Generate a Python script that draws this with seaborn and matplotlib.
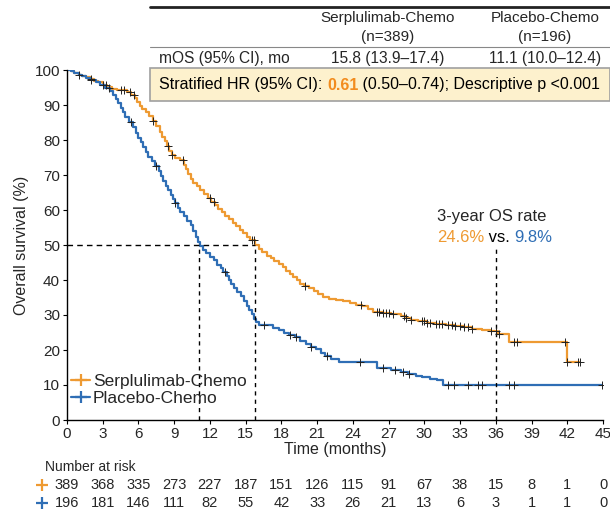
import matplotlib
matplotlib.use('Agg')
import matplotlib.pyplot as plt
import seaborn as sns
import pandas as pd
import numpy as np
from matplotlib.lines import Line2D
from matplotlib.patches import Rectangle

# KM curves (months, % surviving)
serp_t = [0, 0.3, 0.6, 1, 1.3, 1.6, 2, 2.3, 2.6, 3, 3.4, 3.8, 4.2, 5.0, 5.4, 5.7, 5.9, 6.1, 6.3,
          6.6, 6.9, 7.2, 7.5, 7.8, 8.0, 8.2, 8.4, 8.6, 8.8, 9.1, 9.5, 9.8, 10.0, 10.2, 10.4,
          10.6, 10.9, 11.2, 11.5, 11.8, 12.1, 12.4, 12.7, 13.0, 13.3, 13.6, 13.9, 14.2, 14.5,
          14.8, 15.1, 15.4, 15.8, 16.1, 16.4, 16.8, 17.1, 17.4, 17.8, 18.1, 18.4, 18.7, 19.0,
          19.3, 19.6, 19.9, 20.3, 20.7, 21.1, 21.5, 22.0, 22.6, 23.2, 23.8, 24.3, 24.8, 25.3,
          25.7, 26.5, 27.2, 28.0, 28.5, 28.9, 29.5, 30.2, 31.0, 31.8, 32.6, 33.3, 34.0, 34.8,
          35.5, 36.2, 37.1, 42.0, 43.1]
serp_s = [100, 99.6, 99.2, 98.7, 98.3, 97.9, 97.3, 96.9, 96.5, 95.8, 95.2, 94.6, 94.3, 93.8,
          93.0, 92.0, 90.8, 89.6, 88.8, 87.9, 86.8, 85.5, 84.0, 82.4, 81.0, 79.6, 78.2, 76.8,
          75.8, 75.0, 74.3, 73.0, 71.6, 70.3, 69.0, 67.8, 66.8, 65.8, 64.6, 63.5, 62.4, 61.3,
          60.3, 59.3, 58.3, 57.3, 56.4, 55.4, 54.4, 53.4, 52.4, 51.4, 50.0, 48.9, 48.0, 47.0,
          46.2, 45.5, 44.6, 43.6, 42.6, 41.8, 40.9, 40.0, 39.0, 38.3, 37.6, 36.8, 35.9, 35.1,
          34.6, 34.2, 33.9, 33.4, 32.9, 32.5, 31.8, 31.0, 30.6, 30.2, 29.8, 29.1, 28.6, 28.2,
          27.8, 27.5, 27.2, 26.9, 26.5, 26.1, 25.7, 25.3, 24.6, 22.4, 16.7, 16.7]
plac_t = [0, 0.3, 0.6, 1, 1.3, 1.6, 2, 2.4, 2.8, 3.2, 3.6, 3.9, 4.1, 4.3, 4.5, 4.7, 4.9, 5.2,
          5.5, 5.8, 6.0, 6.2, 6.4, 6.6, 6.8, 7.1, 7.4, 7.7, 7.9, 8.1, 8.3, 8.5, 8.7, 8.9, 9.1,
          9.3, 9.5, 9.8, 10.1, 10.4, 10.6, 10.8, 11.0, 11.2, 11.4, 11.7, 12.0, 12.3, 12.6, 12.9,
          13.1, 13.4, 13.6, 13.8, 14.0, 14.3, 14.6, 14.9, 15.1, 15.3, 15.5, 15.7, 15.9, 16.1,
          17.3, 17.8, 18.2, 18.6, 19.1, 19.6, 20.1, 20.5, 20.9, 21.3, 21.7, 22.2, 22.8, 26.0,
          27.2, 28.0, 28.6, 29.3, 29.8, 30.5, 31.1, 31.6, 44.9]
plac_s = [100, 99.6, 99.2, 98.6, 98.2, 97.8, 97.2, 96.5, 95.7, 94.9, 94.0, 93.0, 91.8, 90.5,
          89.2, 87.9, 86.6, 85.2, 83.6, 82.0, 80.6, 79.3, 78.0, 76.6, 75.2, 73.9, 72.6, 71.2,
          69.8, 68.4, 67.0, 65.6, 64.4, 63.2, 62.0, 60.6, 59.4, 58.2, 57.0, 55.6, 54.0, 52.4,
          51.0, 49.8, 48.6, 47.6, 46.6, 45.6, 44.4, 43.4, 42.4, 41.2, 40.0, 39.0, 37.8, 36.6,
          35.4, 34.0, 32.6, 31.4, 30.2, 29.0, 28.0, 27.1, 26.4, 25.6, 24.8, 24.2, 23.6, 22.6,
          21.8, 21.0, 20.2, 19.2, 18.4, 17.5, 16.7, 14.8, 14.3, 13.8, 13.2, 12.6, 12.2, 11.8,
          11.4, 10.0, 10.0]

serp_cens = [1, 2, 3.3, 4.5, 4.8, 5.3, 5.6, 7.2, 8.5, 8.8, 9.7, 12, 12.3, 15.5, 15.7, 20, 24.7,
             26, 26.2, 26.5, 26.8, 27, 27.4, 28.3, 28.5, 28.9, 29.8, 30, 30.2, 30.5, 31, 31.2,
             31.5, 32, 32.3, 32.6, 33, 33.3, 33.7, 34, 35.6, 36, 36.3, 37.5, 37.8, 41.8, 42,
             42.9, 43.1]
plac_cens = [2, 3, 3.5, 5.4, 7.5, 9.1, 13.3, 16.5, 18.7, 19.2, 20.5, 21.8, 24.6, 26.5, 27.5,
             28.2, 28.7, 32, 32.5, 33.7, 34.5, 34.8, 37.1, 37.5, 44.9]

risk_times = list(range(0, 46, 3))
serp_risk = [389, 368, 335, 273, 227, 187, 151, 126, 115, 91, 67, 38, 15, 8, 1, 0]
plac_risk = [196, 181, 146, 111, 82, 55, 42, 33, 26, 21, 13, 6, 3, 1, 1, 0]

groups = ['Serplulimab-Chemo', 'Placebo-Chemo']
colors = ['#EE9A32', '#2F6EB5']
medians = [15.8, 11.1]

sns.set_style('ticks')
plt.rcParams['font.family'] = ['Liberation Sans', 'DejaVu Sans']

W, H = 610, 511
fig = plt.figure(figsize=(W / 100, H / 100), dpi=100)
ax = fig.add_axes([67 / W, 1 - 420 / H, 536 / W, 350 / H])


def step_at(ts, ss, x):
    i = np.searchsorted(ts, x, side='right') - 1
    return np.asarray(ss)[i]


curves = [(serp_t, serp_s, serp_cens), (plac_t, plac_s, plac_cens)]
for (t, s, cens), name, c in zip(curves, groups, colors):
    df = pd.DataFrame({'time': t, 'surv': s})
    sns.lineplot(data=df, x='time', y='surv', drawstyle='steps-post', color=c,
                 linewidth=1.6, ax=ax, estimator=None)
    cdf = pd.DataFrame({'time': cens, 'surv': step_at(t, s, cens)})
    sns.scatterplot(data=cdf, x='time', y='surv', marker='+', color='#222222', s=28,
                    linewidth=0.7, ax=ax, zorder=3)

# median / 3-year guide lines
ax.plot([0, medians[0]], [50, 50], ls=(0, (4, 3)), color='black', lw=1)
for m in medians + [36]:
    ax.plot([m, m], [0, 50], ls=(0, (3, 3)), color='black', lw=1)

ax.set_xlim(0, 45)
ax.set_ylim(0, 100)
ax.set_xticks(risk_times)
ax.set_yticks(range(0, 101, 10))
ax.tick_params(labelsize=11, length=3, width=0.8, color='black', pad=2)
ax.set_xlabel('Time (months)', fontsize=11.5, labelpad=1)
ax.set_ylabel('Overall survival (%)', fontsize=11.5, labelpad=4)
sns.despine(ax=ax)
for sp in ['left', 'bottom']:
    ax.spines[sp].set_color('black')
    ax.spines[sp].set_linewidth(1)

handles = [Line2D([], [], color=c, marker='+', markersize=9, markeredgewidth=1.6, lw=1.6)
           for c in colors]
ax.legend(handles, groups, loc='lower left', bbox_to_anchor=(-0.005, 0.02), frameon=False,
          fontsize=12.5, handlelength=1.1, handletextpad=0.15, labelspacing=0.12,
          borderaxespad=0)

# number at risk
tr = ax.get_xaxis_transform()
ax.text(-1.85, -0.134, 'Number at risk', transform=tr, fontsize=10, va='center', ha='left')
for row, (vals, c) in enumerate(zip([serp_risk, plac_risk], colors)):
    yy = -0.186 - row * 0.052
    ax.plot([-2.1], [yy], transform=tr, marker='+', color=c, markersize=9,
            markeredgewidth=1.6, clip_on=False)
    for x, v in zip(risk_times, vals):
        ax.text(x, yy, str(v), transform=tr, fontsize=10.5, ha='center', va='center')


def px(x, y):
    return x / W, 1 - y / H


renderer = fig.canvas.get_renderer()


def runs(x, y, pieces, size):
    # draw text pieces one after another on a line
    for txt, c, w in pieces:
        t = fig.text(*px(x, y), txt, color=c, fontsize=size, fontweight=w, va='center')
        x += t.get_window_extent(renderer).width


# 3-year annotation
fig.text(*px(437, 216), '3-year OS rate', fontsize=12, va='center')
runs(437, 238, [('24.6%', colors[0], 'normal'), (' vs. ', 'black', 'normal'),
                ('9.8%', colors[1], 'normal')], 12)

# summary table
fig.add_artist(Line2D([150 / W, 1], [1 - 7 / H] * 2, color='#222222', lw=2))
fig.add_artist(Line2D([150 / W, 1], [1 - 47 / H] * 2, color='#888888', lw=0.8))
for xc, name, n in [(388, groups[0], '(n=389)'), (545, groups[1], '(n=196)')]:
    fig.text(*px(xc, 18), name, fontsize=11, ha='center', va='center')
    fig.text(*px(xc, 37), n, fontsize=11, ha='center', va='center')
fig.text(*px(159, 58), 'mOS (95% CI), mo', fontsize=11.2, va='center')
fig.text(*px(388, 58), '15.8 (13.9\u201317.4)', fontsize=11.2, ha='center', va='center')
fig.text(*px(545, 58), '11.1 (10.0\u201312.4)', fontsize=11.2, ha='center', va='center')
fig.add_artist(Rectangle(px(150, 101), 460 / W, 33 / H, facecolor='#FDF1CD',
                         edgecolor='#A0A0A0', lw=1.2))
runs(159, 85, [('Stratified HR (95% CI): ', 'black', 'normal'), ('0.61', '#F28C1E', 'bold'),
               (' (0.50\u20130.74); Descriptive p <0.001', 'black', 'normal')], 11.5)

fig.savefig('out.png', dpi=100)
